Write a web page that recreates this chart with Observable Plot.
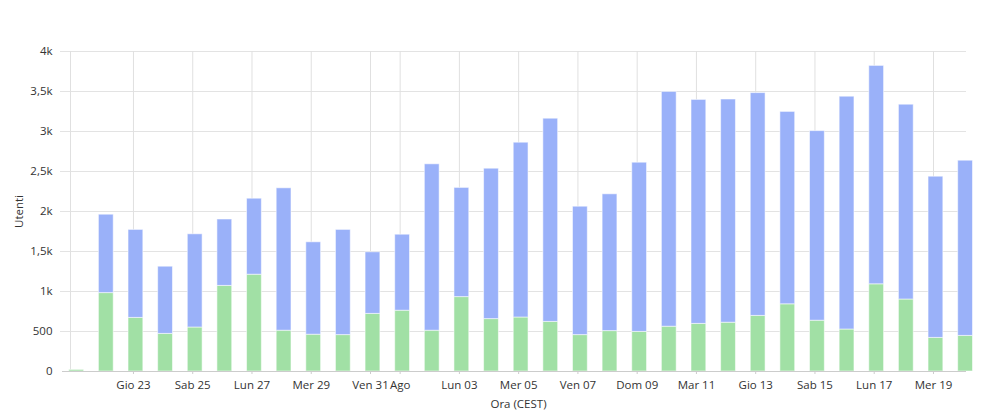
<!DOCTYPE html>
<html>
<head>
<meta charset="utf-8">
<script src="https://cdn.jsdelivr.net/npm/d3@7"></script>
<script src="https://cdn.jsdelivr.net/npm/@observablehq/plot@0.6"></script>
<style>
  html, body { margin: 0; padding: 0; background: #fff; }
  #chart { width: 996px; height: 420px; }
</style>
</head>
<body>
<div id="chart"></div>
<script>
// Days (2018), one bar per day
const days = [
  "2018-08-21","2018-08-22","2018-08-23","2018-08-24","2018-08-25","2018-08-26","2018-08-27",
  "2018-08-28","2018-08-29","2018-08-30","2018-08-31","2018-09-01","2018-09-02","2018-09-03",
  "2018-09-04","2018-09-05","2018-09-06","2018-09-07","2018-09-08","2018-09-09","2018-09-10",
  "2018-09-11","2018-09-12","2018-09-13","2018-09-14","2018-09-15","2018-09-16","2018-09-17",
  "2018-09-18","2018-09-19","2018-09-20"
];
// Lower (green) series
const greenValues = [
  20, 980, 670, 470, 550, 1070, 1210, 510, 460, 455, 720, 760, 510, 930,
  655, 675, 620, 455, 505, 495, 560, 595, 610, 695, 840, 635, 525, 1090,
  900, 420, 445
];
// Upper (blue) series
const blueValues = [
  0, 980, 1100, 840, 1165, 830, 950, 1780, 1155, 1315, 770, 950, 2080, 1365,
  1880, 2185, 2540, 1605, 1710, 2115, 2935, 2800, 2790, 2785, 2405, 2370, 2910, 2730,
  2435, 2015, 2190
];
const xDomain = ["2018-08-20T21:00Z", "2018-09-20T02:45Z"];
const xTicks = [
  "2018-08-23","2018-08-25","2018-08-27","2018-08-29","2018-08-31","2018-09-01",
  "2018-09-03","2018-09-05","2018-09-07","2018-09-09","2018-09-11","2018-09-13",
  "2018-09-15","2018-09-17","2018-09-19"
];
const xTickLabels = [
  "Gio 23","Sab 25","Lun 27","Mer 29","Ven 31","Ago",
  "Lun 03","Mer 05","Ven 07","Dom 09","Mar 11","Gio 13",
  "Sab 15","Lun 17","Mer 19"
];
const yTicks = [0, 500, 1000, 1500, 2000, 2500, 3000, 3500, 4000];
const yTickLabels = ["0","500","1k","1,5k","2k","2,5k","3k","3,5k","4k"];

const H = 3600e3;
const rows = [];
days.forEach((d, i) => {
  const t = new Date(d + "T00:00Z");
  const x1 = new Date(+t - 4 * H), x2 = new Date(+t + 8 * H);
  rows.push({x1, x2, y1: 0, y2: greenValues[i], s: "g"});
  rows.push({x1, x2, y1: greenValues[i], y2: greenValues[i] + blueValues[i], s: "b"});
});
const tickDates = xTicks.map(d => new Date(d + "T00:00Z"));
const dom = xDomain.map(d => new Date(d));

const chart = Plot.plot({
  width: 996,
  height: 420,
  marginTop: 51,
  marginBottom: 49,
  marginLeft: 70,
  marginRight: 30,
  style: {fontFamily: "'Open Sans', sans-serif", fontSize: "11.5px", color: "#333", background: "#fff"},
  x: {type: "utc", domain: dom},
  y: {domain: [0, 4000]},
  color: {domain: ["g", "b"], range: ["#a1e0a5", "#9ab1f9"]},
  marks: [
    Plot.ruleY(yTicks.slice(1), {stroke: "#e3e3e3", insetLeft: -10}),
    Plot.ruleX(tickDates, {stroke: "#e0e0e0"}),
    Plot.ruleX([dom[0]], {stroke: "#e0e0e0"}),
    Plot.rectY(rows, {x1: "x1", x2: "x2", y1: "y1", y2: "y2", fill: "s",
      stroke: "#ffffff", strokeOpacity: 0.55, strokeWidth: 1}),
    Plot.ruleY([0], {stroke: "#cccccc", insetLeft: -8}),
    Plot.axisY({ticks: yTicks, tickFormat: (d, i) => yTickLabels[yTicks.indexOf(d)],
      tickSize: 0, tickPadding: 18, label: "Utenti", labelAnchor: "center",
      labelArrow: "none", labelOffset: 56, fontSize: 11.5}),
    Plot.axisX({ticks: tickDates, tickFormat: (d) => xTickLabels[tickDates.findIndex(t => +t === +d)],
      tickSize: 3, tickPadding: 6, stroke: "#cccccc",
      label: "Ora (CEST)", labelAnchor: "center", labelArrow: "none", labelOffset: 36, fontSize: 11.5})
  ]
});
document.getElementById("chart").appendChild(chart);
</script>
</body>
</html>
